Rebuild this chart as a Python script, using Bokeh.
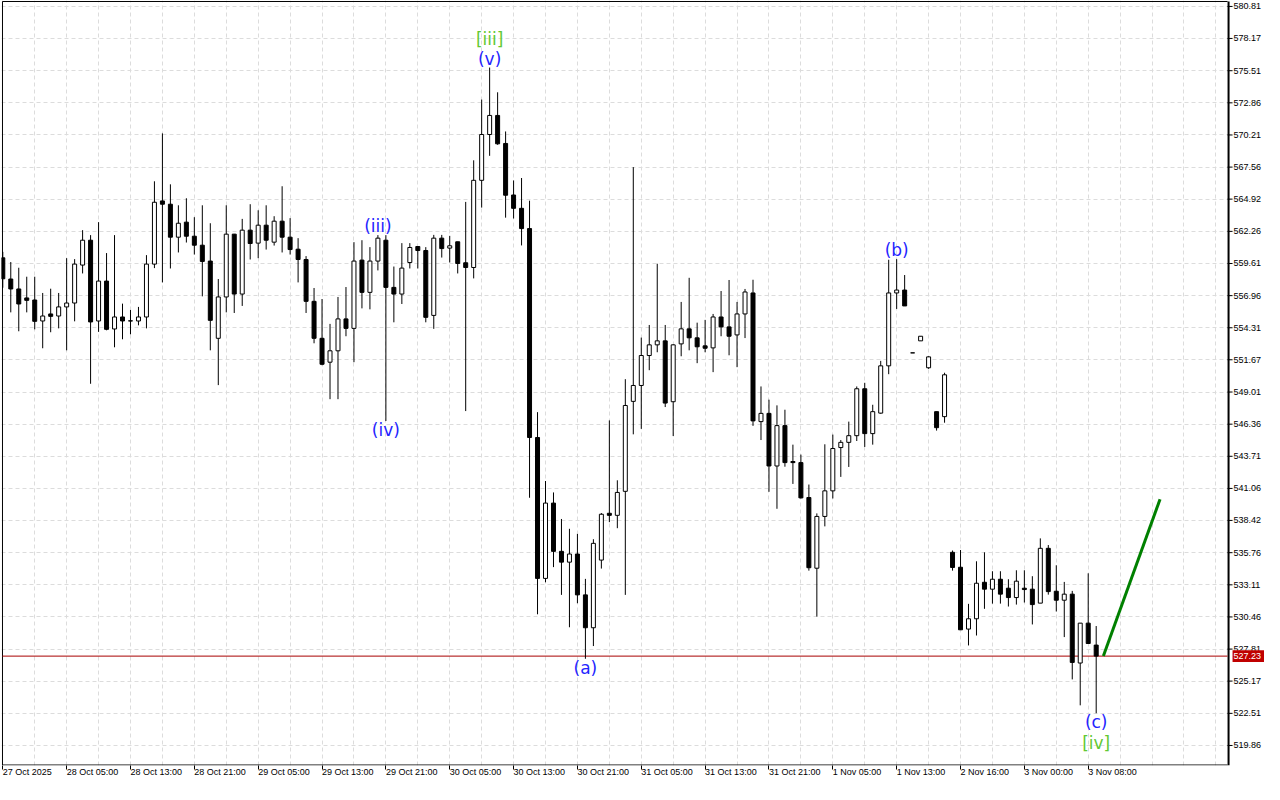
from bokeh.plotting import figure
from bokeh.models import ColumnDataSource, Range1d, FixedTicker, NumeralTickFormatter
from bokeh.core.properties import value
from bokeh.embed import file_html
from bokeh.resources import INLINE

# ---------------- data (H1 candles) ----------------
opens = [560.08, 558.33, 557.51, 556.77, 556.60, 554.87, 555.45, 555.28, 556.03, 556.35,
         559.48, 561.53, 554.87, 558.16, 554.21, 555.20, 554.88, 554.87, 555.20, 559.56,
         564.77, 564.50, 561.78, 563.02, 561.86, 561.12, 559.81, 553.44, 556.85, 562.03,
         557.09, 562.36, 561.29, 562.77, 561.37, 563.10, 561.78, 560.79, 559.94, 556.49,
         553.44, 551.47, 552.41, 555.04, 554.26, 559.89, 557.23, 559.81, 561.53, 557.64,
         557.09, 559.69, 561.01, 560.68, 555.33, 561.70, 560.88, 561.40, 559.67, 559.28,
         566.47, 570.25, 571.82, 569.51, 565.26, 564.16, 562.49, 545.26, 533.64, 539.85,
         535.87, 534.98, 535.65, 532.28, 529.57, 535.15, 539.01, 538.84, 540.82, 548.24,
         549.55, 552.02, 552.90, 553.23, 548.21, 552.98, 554.22, 553.48, 552.82, 552.65,
         555.20, 554.38, 553.72, 555.45, 557.18, 546.57, 547.25, 542.91, 546.24, 543.28,
         543.19, 540.31, 534.48, 538.75, 540.86, 544.43, 544.86, 545.41, 549.28, 545.58,
         547.27, 551.17, 557.18, 557.42, 552.24, 553.23, 551.01, 547.39, 546.98, 535.79,
         534.56, 529.46, 530.31, 533.32, 532.75, 533.57, 532.83, 532.06, 532.83, 532.75,
         531.60, 536.12, 532.58, 531.84, 532.34, 526.66, 529.95, 528.14]
highs = [560.57, 559.73, 559.26, 558.52, 558.52, 557.18, 557.53, 557.18, 560.05, 559.97,
         562.36, 561.95, 563.02, 560.47, 561.95, 556.30, 555.78, 556.03, 560.30, 566.39,
         570.34, 566.14, 564.41, 564.99, 563.43, 564.41, 562.93, 558.33, 564.41, 562.05,
         563.29, 564.50, 564.00, 564.41, 563.51, 565.98, 563.35, 561.70, 560.22, 557.59,
         556.68, 554.63, 556.85, 557.67, 561.37, 561.53, 560.96, 561.95, 561.95, 559.36,
         561.29, 561.29, 561.01, 560.96, 561.97, 561.97, 561.89, 561.40, 564.69, 568.12,
         573.13, 575.77, 573.73, 570.50, 566.46, 566.66, 564.79, 547.35, 541.67, 540.73,
         538.54, 537.73, 537.31, 533.60, 536.87, 539.03, 546.67, 541.73, 550.07, 567.56,
         553.50, 554.54, 559.59, 554.54, 552.95, 556.44, 558.43, 554.73, 554.96, 555.45,
         557.34, 558.25, 556.44, 557.51, 558.27, 549.47, 548.38, 547.91, 547.55, 544.67,
         543.85, 541.38, 539.00, 544.70, 545.50, 545.05, 546.57, 549.47, 549.77, 547.96,
         551.58, 559.92, 559.97, 558.66, 552.24, 553.61, 551.96, 547.39, 550.60, 535.94,
         535.98, 531.54, 535.05, 535.79, 534.23, 534.23, 533.57, 534.31, 534.31, 533.82,
         536.94, 536.39, 534.72, 533.35, 532.61, 529.95, 534.06, 529.71]
lows = [557.61, 555.58, 554.02, 555.58, 554.18, 552.62, 553.94, 554.26, 552.45, 554.84,
        558.79, 549.69, 553.97, 554.10, 552.70, 553.36, 553.77, 554.51, 554.26, 559.23,
        558.05, 559.20, 560.52, 561.34, 560.35, 556.90, 552.45, 549.58, 555.58, 555.53,
        556.11, 559.94, 560.05, 560.76, 561.09, 560.52, 560.35, 558.05, 555.53, 553.03,
        551.22, 548.42, 548.42, 553.61, 551.47, 555.91, 555.83, 559.04, 546.62, 554.76,
        556.27, 559.20, 559.20, 554.76, 554.22, 560.10, 559.69, 558.79, 547.44, 558.38,
        564.22, 568.49, 569.40, 563.39, 563.32, 561.10, 540.29, 530.68, 533.32, 534.57,
        532.28, 529.61, 531.59, 527.01, 528.06, 534.45, 538.28, 537.78, 532.28, 545.52,
        545.97, 550.81, 552.29, 547.77, 545.38, 551.96, 552.45, 551.39, 552.29, 550.65,
        553.61, 552.04, 551.06, 553.46, 546.22, 545.05, 540.78, 539.38, 542.85, 541.43,
        540.23, 534.28, 530.49, 537.93, 540.23, 542.01, 542.83, 544.97, 544.48, 544.67,
        547.22, 550.48, 555.86, 556.11, 552.24, 553.23, 550.92, 545.83, 546.48, 534.28,
        529.40, 528.11, 528.93, 531.13, 531.56, 531.56, 531.32, 531.48, 531.65, 529.84,
        531.60, 532.30, 530.91, 528.80, 525.31, 523.17, 528.27, 522.52]
closes = [558.35, 557.51, 556.27, 556.57, 554.84, 555.28, 555.25, 556.03, 556.35, 559.56,
          561.53, 554.79, 558.16, 554.18, 555.20, 554.87, 554.87, 555.20, 559.56, 564.66,
          564.50, 561.78, 562.93, 561.86, 561.12, 559.78, 554.92, 556.85, 562.03, 557.09,
          562.36, 561.26, 562.77, 561.53, 563.10, 561.78, 560.76, 559.94, 556.49, 553.44,
          551.30, 552.41, 555.04, 554.26, 559.81, 557.23, 559.81, 561.70, 557.64, 557.09,
          559.23, 560.93, 560.68, 555.17, 561.70, 560.84, 561.07, 559.61, 559.28, 566.47,
          570.25, 571.82, 569.48, 565.24, 564.16, 562.49, 545.26, 533.64, 539.85, 535.87,
          534.98, 535.65, 532.28, 529.57, 536.53, 538.93, 538.84, 540.73, 547.90, 549.55,
          552.02, 552.90, 553.23, 548.10, 552.90, 554.22, 553.48, 552.74, 552.62, 555.20,
          554.38, 553.61, 555.45, 557.26, 546.63, 547.25, 542.91, 546.24, 543.19, 543.19,
          540.28, 534.52, 538.75, 540.86, 544.35, 544.86, 545.41, 549.28, 545.58, 547.39,
          551.17, 557.18, 557.42, 556.11, 552.24, 553.61, 551.91, 546.07, 550.43, 534.54,
          529.40, 530.31, 533.24, 532.75, 533.57, 532.34, 532.06, 533.41, 532.72, 531.48,
          536.12, 532.55, 531.84, 532.34, 526.71, 529.95, 528.27, 527.23]

time_tick_bars = [0, 8, 16, 24, 32, 40, 48, 56, 64, 72, 80, 88, 96, 104, 112, 120, 128, 136]
time_tick_labels = ["27 Oct 2025", "28 Oct 05:00", "28 Oct 13:00", "28 Oct 21:00",
                    "29 Oct 05:00", "29 Oct 13:00", "29 Oct 21:00", "30 Oct 05:00",
                    "30 Oct 13:00", "30 Oct 21:00", "31 Oct 05:00", "31 Oct 13:00",
                    "31 Oct 21:00", "1 Nov 05:00", "1 Nov 13:00", "2 Nov 16:00",
                    "3 Nov 00:00", "3 Nov 08:00"]
price_ticks = [580.81, 578.17, 575.51, 572.86, 570.21, 567.56, 564.92, 562.26, 559.61,
               556.96, 554.31, 551.67, 549.01, 546.36, 543.71, 541.06, 538.42, 535.76,
               533.11, 530.46, 527.81, 525.17, 522.51, 519.86]
last_price = 527.23

wave_texts = ["[iii]", "(v)", "(iii)", "(iv)", "(a)", "(b)", "(c)", "[iv]"]
wave_bars = [61, 61, 47, 48, 73, 112, 137, 137]
wave_at_high = [True, True, True, False, False, True, False, False]
wave_degree = ["minor", "minute", "minute", "minute", "minute", "minute", "minute", "minor"]

projection_bars = [137.9, 145.0]
projection_prices = [527.23, 540.17]

# ---------------- layout constants (pixels -> data) ----------------
W, H = 1264, 784
BORDER_BOTTOM = 17
PX_PER_BAR = 8.0
PX_PER_UNIT = 12.157
frame_w = W - 1
frame_h = H - BORDER_BOTTOM
x0 = -0.1625
x1 = x0 + frame_w / PX_PER_BAR
y1 = 581.30
y0 = y1 - frame_h / PX_PER_UNIT
chart_left = -0.04            # left edge of the chart box (bars)
chart_right = 153.46          # right edge of the chart box (bars)
chart_top = y1 - 1 / PX_PER_UNIT
chart_bottom = y0 + 0.5 / PX_PER_UNIT
px_x = 1 / PX_PER_BAR
px_y = 1 / PX_PER_UNIT

# ---------------- build ----------------
n = len(opens)
idx = list(range(n))
bull = [c > o for o, c in zip(opens, closes)]
src = ColumnDataSource(dict(
    x=idx, o=opens, h=highs, l=lows, c=closes,
    top=[max(o, c) for o, c in zip(opens, closes)],
    bottom=[min(o, c) for o, c in zip(opens, closes)],
    fill=["white" if b else "black" for b in bull],
))

p = figure(width=W, height=H, output_backend="svg", toolbar_location=None,
           x_range=Range1d(x0, x1), y_range=Range1d(y0, y1),
           y_axis_location="right", min_border_left=1, min_border_top=0,
           min_border_right=0, min_border_bottom=BORDER_BOTTOM)
p.background_fill_color = "white"
p.border_fill_color = "white"
p.outline_line_color = None

# grid
grid_color = "#dcdcdc"
p.xgrid.ticker = FixedTicker(ticks=list(range(0, 153, 4)))
for g in (p.xgrid, p.ygrid):
    g.grid_line_color = grid_color
    g.grid_line_dash = "4 3"
    g.grid_line_width = 1

# white price-scale column (covers grid to the right of the chart box)
cover = p.quad(left=[chart_right], right=[x1 + 1], bottom=[y0 - 1], top=[y1 + 1],
               fill_color="white", line_color=None)
cover.level = "underlay"

# y axis: labels drawn inside the price-scale column
p.yaxis.ticker = FixedTicker(ticks=price_ticks)
p.yaxis.formatter = NumeralTickFormatter(format="0.00")
p.yaxis.axis_line_color = None
p.yaxis.major_tick_line_color = None
p.yaxis.major_tick_in = 0
p.yaxis.major_tick_out = 0
p.yaxis.minor_tick_line_color = None
p.yaxis.major_label_standoff = -28
p.yaxis.major_label_text_font = "Liberation Sans"
p.yaxis.major_label_text_font_size = "9px"
p.yaxis.major_label_text_color = "black"

# x axis
p.xaxis.ticker = FixedTicker(ticks=time_tick_bars)
p.xaxis.major_label_overrides = {b: t for b, t in zip(time_tick_bars, time_tick_labels)}
p.xaxis.axis_line_color = None
p.xaxis.major_tick_line_color = "black"
p.xaxis.major_tick_in = 0
p.xaxis.major_tick_out = 4
p.xaxis.minor_tick_line_color = None
p.xaxis.major_label_text_font = "Liberation Sans"
p.xaxis.major_label_text_font_size = "9px"
p.xaxis.major_label_text_color = "black"
p.xaxis.major_label_orientation = -1e-9
p.xaxis.major_label_standoff = 2

# chart box
p.segment(x0=[chart_left, chart_left, chart_left], y0=[chart_top, chart_bottom, chart_bottom],
          x1=[chart_right, chart_right, chart_left], y1=[chart_top, chart_bottom, chart_top],
          line_color="black", line_width=1)
p.segment(x0=[chart_right + px_x], y0=[y0], x1=[chart_right + px_x], y1=[chart_top],
          line_color="black", line_width=2)
# price-scale tick marks
p.segment(x0=[chart_right] * len(price_ticks), y0=price_ticks,
          x1=[chart_right + 5 * px_x] * len(price_ticks), y1=price_ticks,
          line_color="black", line_width=1)

# current price line
p.segment(x0=[chart_left], y0=[last_price], x1=[chart_right], y1=[last_price],
          line_color="#a80000", line_width=1)

# candles
p.segment(x0="x", y0="l", x1="x", y1="h", source=src, line_color="black", line_width=1)
p.vbar(x="x", width=0.5, top="top", bottom="bottom", source=src,
       fill_color="fill", line_color="black", line_width=1)

# projection
p.line(projection_bars, projection_prices, line_color="#008000", line_width=3)

# wave labels
wy, woff, wcol = [], [], []
for b, hi, deg in zip(wave_bars, wave_at_high, wave_degree):
    wy.append(highs[b] if hi else lows[b])
    if deg == "minor":
        woff.append(-29 if hi else 30)
        wcol.append("#62c832")
    else:
        woff.append(-9 if hi else 9)
        wcol.append("#2424ff")
wsrc = ColumnDataSource(dict(x=wave_bars, y=wy, t=wave_texts, off=woff, col=wcol))
p.text(x="x", y="y", text="t", y_offset="off", text_color="col", source=wsrc,
       text_font=value("DejaVu Sans"), text_font_size="17px",
       text_align="center", text_baseline="middle")

# current price tag on the price scale
tag = p.quad(left=[chart_right + 5 * px_x], right=[x1 + 1],
             bottom=[last_price - 6 * px_y], top=[last_price + 6 * px_y],
             fill_color="#c00000", line_color=None)
tag.level = "overlay"
tag_text = p.text(x=[chart_right + 6 * px_x], y=[last_price], text=[f"{last_price:.2f}"],
                  text_color="white", text_font=value("Liberation Sans"),
                  text_font_size="9px", text_align="left", text_baseline="middle")
tag_text.level = "overlay"

open("out.html", "w").write(file_html(p, INLINE))
